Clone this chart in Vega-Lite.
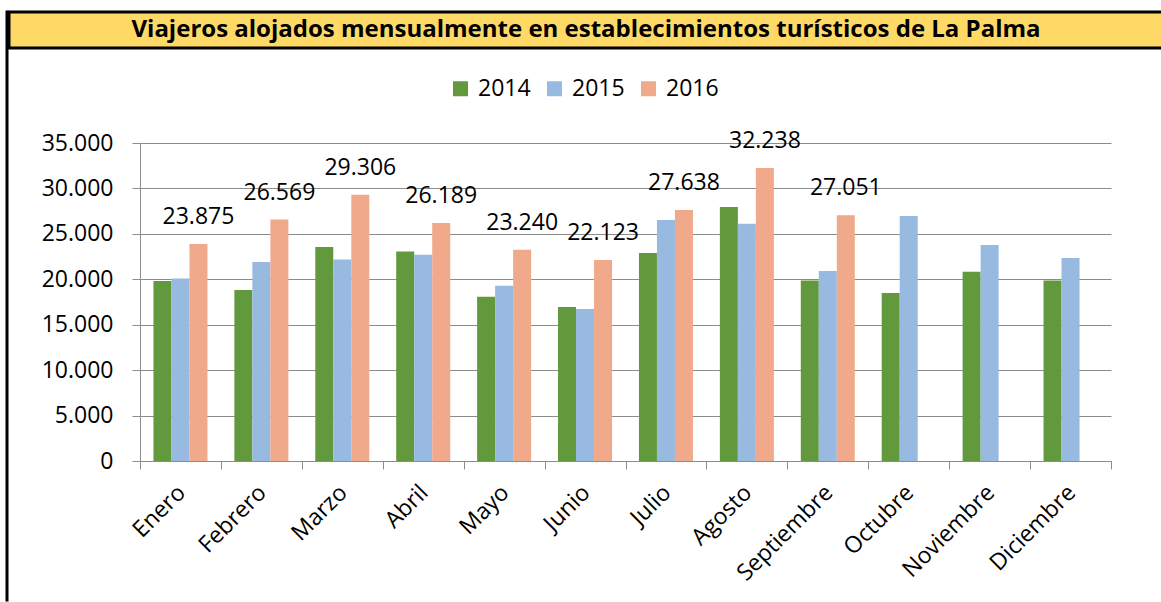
{
  "$schema": "https://vega.github.io/schema/vega-lite/v6.json",
  "background": "white",
  "padding": {"left": 5, "top": 10, "right": 0, "bottom": 0},
  "spacing": -6,
  "config": {
    "font": "Open Sans",
    "locale": {"number": {"decimal": ",", "thousands": ".", "grouping": [3], "currency": ["", " €"]}},
    "view": {"stroke": null}
  },
  "hconcat": [
    {
      "width": 0.01,
      "height": 588,
      "view": {"stroke": "black", "strokeWidth": 3},
      "data": {"values": []},
      "mark": "point",
      "encoding": {}
    },
    {
      "spacing": 0,
      "vconcat": [
        {
          "width": 1154,
          "height": 36,
          "view": {"fill": "#FFD966", "stroke": "black", "strokeWidth": 3},
          "data": {"values": [{"t": "Viajeros alojados mensualmente en establecimientos turísticos de La Palma"}]},
          "mark": {"type": "text", "font": "Open Sans", "fontWeight": "bold", "fontSize": 24, "baseline": "middle", "align": "center", "color": "black"},
          "encoding": {"text": {"field": "t", "type": "nominal"}}
        },
        {
          "spacing": 31,
          "hconcat": [
            {
              "width": 0.01,
              "height": 0.01,
              "data": {"values": []},
              "mark": "point",
              "encoding": {}
            },
            {
              "width": 971,
              "height": 318,
              "title": {"text": " ", "fontSize": 10, "offset": 70},
              "data": {"values": [
                {"mes": "Enero", "anio": "2014", "valor": 19800},
                {"mes": "Febrero", "anio": "2014", "valor": 18820},
                {"mes": "Marzo", "anio": "2014", "valor": 23550},
                {"mes": "Abril", "anio": "2014", "valor": 23070},
                {"mes": "Mayo", "anio": "2014", "valor": 18080},
                {"mes": "Junio", "anio": "2014", "valor": 16950},
                {"mes": "Julio", "anio": "2014", "valor": 22890},
                {"mes": "Agosto", "anio": "2014", "valor": 27950},
                {"mes": "Septiembre", "anio": "2014", "valor": 19880},
                {"mes": "Octubre", "anio": "2014", "valor": 18490},
                {"mes": "Noviembre", "anio": "2014", "valor": 20840},
                {"mes": "Diciembre", "anio": "2014", "valor": 19880},
                {"mes": "Enero", "anio": "2015", "valor": 20100},
                {"mes": "Febrero", "anio": "2015", "valor": 21900},
                {"mes": "Marzo", "anio": "2015", "valor": 22190},
                {"mes": "Abril", "anio": "2015", "valor": 22700},
                {"mes": "Mayo", "anio": "2015", "valor": 19300},
                {"mes": "Junio", "anio": "2015", "valor": 16730},
                {"mes": "Julio", "anio": "2015", "valor": 26520},
                {"mes": "Agosto", "anio": "2015", "valor": 26120},
                {"mes": "Septiembre", "anio": "2015", "valor": 20910},
                {"mes": "Octubre", "anio": "2015", "valor": 26960},
                {"mes": "Noviembre", "anio": "2015", "valor": 23770},
                {"mes": "Diciembre", "anio": "2015", "valor": 22340},
                {"mes": "Enero", "anio": "2016", "valor": 23875},
                {"mes": "Febrero", "anio": "2016", "valor": 26569},
                {"mes": "Marzo", "anio": "2016", "valor": 29306},
                {"mes": "Abril", "anio": "2016", "valor": 26189},
                {"mes": "Mayo", "anio": "2016", "valor": 23240},
                {"mes": "Junio", "anio": "2016", "valor": 22123},
                {"mes": "Julio", "anio": "2016", "valor": 27638},
                {"mes": "Agosto", "anio": "2016", "valor": 32238},
                {"mes": "Septiembre", "anio": "2016", "valor": 27051}
              ]},
              "encoding": {
                "x": {
                  "field": "mes", "type": "nominal",
                  "sort": ["Enero", "Febrero", "Marzo", "Abril", "Mayo", "Junio", "Julio", "Agosto", "Septiembre", "Octubre", "Noviembre", "Diciembre"],
                  "scale": {"paddingInner": 0, "paddingOuter": 0},
                  "axis": {
                    "title": null, "labelAngle": -45, "labelFontSize": 23, "labelColor": "black",
                    "labelPadding": 12, "labelOffset": -7, "tickBand": "extent", "tickSize": 8, "tickColor": "#8c8c8c",
                    "domainColor": "#8c8c8c", "grid": false
                  }
                },
                "xOffset": {
                  "field": "anio", "type": "nominal",
                  "scale": {"domain": ["2014", "2015", "2016"], "paddingInner": 0, "paddingOuter": 0.747}
                },
                "y": {
                  "field": "valor", "type": "quantitative",
                  "scale": {"domain": [0, 35000], "nice": false},
                  "axis": {
                    "title": null, "values": [0, 5000, 10000, 15000, 20000, 25000, 30000, 35000],
                    "labelExpr": "format(datum.value, ',')", "labelFontSize": 23, "labelColor": "black", "labelPadding": 19,
                    "tickSize": 8, "tickColor": "#8c8c8c", "domainColor": "#8c8c8c",
                    "grid": true, "gridColor": "#8c8c8c", "gridWidth": 1
                  }
                }
              },
              "layer": [
                {
                  "mark": {"type": "bar"},
                  "encoding": {
                    "color": {
                      "field": "anio", "type": "nominal",
                      "scale": {"domain": ["2014", "2015", "2016"], "range": ["#63993D", "#98B9E0", "#F1A98B"]},
                      "legend": {
                        "title": null, "orient": "none", "direction": "horizontal",
                        "legendX": 442, "legendY": 65, "padding": 0,
                        "symbolType": "square", "symbolSize": 225, "symbolStrokeWidth": 0,
                        "labelFontSize": 23, "labelColor": "black", "labelOffset": 6, "columnPadding": 12
                      }
                    }
                  }
                },
                {
                  "transform": [{"filter": "datum.anio == '2016'"}],
                  "mark": {"type": "text", "fontSize": 23, "baseline": "alphabetic", "dy": -20, "color": "black"},
                  "encoding": {"text": {"field": "valor", "type": "quantitative", "format": ","}}
                }
              ]
            }
          ]
        }
      ]
    }
  ]
}
